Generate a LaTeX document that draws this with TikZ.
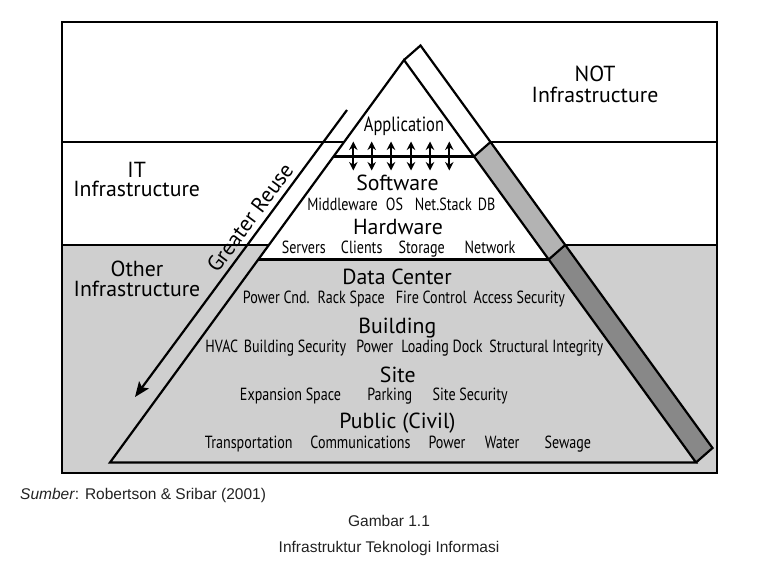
\documentclass[tikz,border=0pt]{standalone}
\usepackage{fontspec}
\setmainfont{PT Sans}
\newfontfamily\headfont{PT Sans}
\newfontfamily\condfont[FakeStretch=0.8]{PT Sans}
\newfontfamily\capfont{Liberation Sans}
\usetikzlibrary{arrows.meta,calc}
\definecolor{bggrey}{HTML}{CFCFCF}
\definecolor{bandmid}{HTML}{B3B3B3}
\definecolor{bandlow}{HTML}{888888}
\definecolor{captxt}{HTML}{222222}
\begin{document}
\begin{tikzpicture}[x=1pt,y=-1pt,
  ln/.style={line width=2.2pt,line join=miter},
  head/.style={font=\headfont\fontsize{21.8}{24}\selectfont,anchor=base,inner sep=0pt},
  condhead/.style={font=\condfont\fontsize{20.6}{22}\selectfont,anchor=base,inner sep=0pt},
  lbl/.style={font=\condfont\fontsize{17.6}{19}\selectfont,anchor=base,inner sep=0pt},
  captext/.style={font=\capfont\fontsize{15.5}{17}\selectfont,text=captxt,anchor=base,inner sep=0pt},
  dbl/.style={line width=2pt,{Stealth[length=8.5pt,width=8.5pt]}-{Stealth[length=8.5pt,width=8.5pt]}}]
\useasboundingbox (0,0) rectangle (762,565);
\fill[white] (0,0) rectangle (762,565);
% key points
\coordinate (A) at (404,60);
\coordinate (L) at (110,462.5);
\coordinate (R) at (696,462.5);
\coordinate (Ao) at (420.5,45.5);
\coordinate (Ro) at (712.5,448);
\coordinate (P1) at (474.0,156.5);
\coordinate (P1o) at (490.5,142);
\coordinate (P2) at (548.7,259.5);
\coordinate (P2o) at (565.2,245);
\coordinate (Q1) at (333.5,156.5);
\coordinate (Q2) at (258.3,259.5);
\coordinate (E1) at (344.1,142);
\coordinate (E2) at (268.9,245);
\coordinate (FL1) at (62,142);
\coordinate (FR1) at (717,142);
\coordinate (FL2) at (62,245);
\coordinate (FR2) at (717,245);
% fills
\fill[bggrey] (62,245) rectangle (717,473);
\fill[white] (A) -- (Q2) -- (P2) -- cycle;
\fill[white] (A) -- (Ao) -- (P1o) -- (P1) -- cycle;
\fill[bandmid] (P1) -- (P1o) -- (P2o) -- (P2) -- cycle;
\fill[bandlow] (P2) -- (P2o) -- (Ro) -- (R) -- cycle;
% horizontal lines
\draw[ln] (FL1) -- (E1);
\draw[ln] (P1o) -- (FR1);
\draw[ln] (FL2) -- (E2);
\draw[ln] (P2o) -- (FR2);
\draw[ln] (Q1) -- (P1);
\draw[ln] (Q2) -- (P2);
% pyramid and band
\draw[ln] (A) -- (L) -- (R) -- cycle;
\draw[ln] (A) -- (Ao) -- (Ro) -- (R);
\draw[ln] (P1) -- (P1o);
\draw[ln] (P2) -- (P2o);
% frame
\draw[line width=2.7pt] (62,22) rectangle (717,473);
% greater reuse arrow
\coordinate (gs) at (347,110);
\coordinate (ge) at (135,397);
\draw[line width=2.2pt,-{Stealth[length=15pt,width=12pt,inset=3pt]}] (gs) -- (ge);
\node[head,anchor=center,rotate=53.5] (greuse) at (250,217.5) {Greater Reuse};
% double arrows
\foreach \i/\x in {1/353.3,2/371.7,3/391,4/411,5/430,6/449.3}{
  \coordinate (ua\i) at (\x,141.5);
  \coordinate (da\i) at (\x,170.5);
  \draw[dbl] (ua\i) -- (da\i);
}
% side labels
\node[head] (not1) at (595,81.7) {NOT};
\node[head] (not2) at (595,102.3) {Infrastructure};
\node[head] (it1) at (136.7,177.7) {IT};
\node[head] (it2) at (136.7,196.7) {Infrastructure};
\node[head] (ot1) at (137,276.7) {Other};
\node[head] (ot2) at (137,296.7) {Infrastructure};
% layers
\node[condhead] (app) at (404,131.7) {Application};
\node[head] (sw) at (397.5,190) {Software};
\node[lbl] (sw1) at (342.5,210) {Middleware};
\node[lbl] (sw2) at (394.5,210) {OS};
\node[lbl] (sw3) at (443.3,210) {Net.Stack};
\node[lbl] (sw4) at (486.5,210) {DB};
\node[head] (hw) at (398,234) {Hardware};
\node[lbl] (hw1) at (303.8,253.3) {Servers};
\node[lbl] (hw2) at (361.7,253.3) {Clients};
\node[lbl] (hw3) at (421.7,253.3) {Storage};
\node[lbl] (hw4) at (490,253.3) {Network};
\node[head] (dc) at (397,284.7) {Data Center};
\node[lbl] (dc1) at (276.3,303.3) {Power Cnd.};
\node[lbl] (dc2) at (351.2,303.3) {Rack Space};
\node[lbl] (dc3) at (431.3,303.3) {Fire Control};
\node[lbl] (dc4) at (519.3,303.3) {Access Security};
\node[head] (bd) at (397.3,333.7) {Building};
\node[lbl] (bd1) at (221.8,352.7) {HVAC};
\node[lbl] (bd2) at (295,352.7) {Building Security};
\node[lbl] (bd3) at (374.7,352.7) {Power};
\node[lbl] (bd4) at (442,352.7) {Loading Dock};
\node[lbl] (bd5) at (546.3,352.7) {Structural Integrity};
\node[head] (st) at (397.8,382) {Site};
\node[lbl] (st1) at (290.5,400.7) {Expansion Space};
\node[lbl] (st2) at (389.8,400.7) {Parking};
\node[lbl] (st3) at (470.2,400.7) {Site Security};
\node[head] (pc) at (397.5,428.7) {Public (Civil)};
\node[lbl] (pc1) at (248.8,448.7) {Transportation};
\node[lbl] (pc2) at (360.5,448.7) {Communications};
\node[lbl] (pc3) at (447,448.7) {Power};
\node[lbl] (pc4) at (502.2,448.7) {Water};
\node[lbl] (pc5) at (567.8,448.7) {Sewage};
% caption
\node[captext,anchor=base west] (src) at (20,499) {\textit{Sumber}: Robertson \& Sribar (2001)};
\node[captext] (fig) at (389,526) {Gambar 1.1};
\node[captext] (title) at (389,552) {Infrastruktur Teknologi Informasi};
\end{tikzpicture}
\end{document}
